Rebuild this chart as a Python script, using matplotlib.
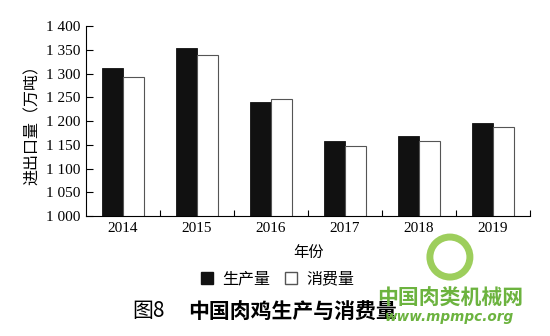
import matplotlib
matplotlib.use("Agg")
import matplotlib.pyplot as plt
from matplotlib.patches import Patch, Ellipse
import numpy as np

plt.rcParams['font.family'] = ['Liberation Serif', 'Noto Sans CJK SC', 'DejaVu Sans']

# 年份
years = ['2014', '2015', '2016', '2017', '2018', '2019']
# 生产量 / 消费量 (万吨)
production = [1311, 1353, 1240, 1158, 1168, 1196]
consumption = [1293, 1339, 1247, 1147, 1157, 1188]
yticks = [1000, 1050, 1100, 1150, 1200, 1250, 1300, 1350, 1400]
ytick_labels = ['1 000', '1 050', '1 100', '1 150', '1 200', '1 250', '1 300', '1 350', '1 400']

fig = plt.figure(figsize=(5.5, 3.36), dpi=100)
ax = fig.add_axes([0.1564, 0.357, 0.8072, 0.5656])

x = np.arange(len(years))
w = 0.29
ax.bar(x - w / 2, production, w, color='#111111', edgecolor='#111111', linewidth=0.6)
ax.bar(x + w / 2, consumption, w, color='white', edgecolor='#555555', linewidth=0.8)

ax.set_xlim(-0.5, len(years) - 0.5)
ax.set_ylim(1000, 1400)
ax.set_yticks(yticks)
ax.set_yticklabels(ytick_labels, fontsize=11)
# x刻度在组之间
ax.set_xticks(np.arange(len(years)) + 0.5)
ax.set_xticklabels([])
ax.set_xticks(x, minor=True)
ax.set_xticklabels(years, minor=True, fontsize=11)
ax.tick_params(axis='x', which='major', direction='in', length=4, width=0.8)
ax.tick_params(axis='x', which='minor', length=0, pad=4)
ax.tick_params(axis='y', direction='in', length=5, width=0.8, pad=4)
ax.spines['top'].set_visible(False)
ax.spines['right'].set_visible(False)
ax.spines['left'].set_linewidth(0.8)
ax.spines['bottom'].set_linewidth(0.8)

ax.set_ylabel('进出口量（万吨）', fontsize=11.5, family=['Noto Sans CJK SC'], labelpad=4)
ax.set_xlabel('年份', fontsize=11, family=['Noto Sans CJK SC'], labelpad=7)

handles = [Patch(facecolor='#111111', edgecolor='#111111', label='生产量'),
           Patch(facecolor='white', edgecolor='#555555', label='消费量')]
fig.legend(handles=handles, loc='center', bbox_to_anchor=(0.505, 0.17), ncol=2,
           frameon=False, prop={'family': 'Noto Sans CJK SC', 'size': 11.5},
           handlelength=0.75, handleheight=0.75, handletextpad=0.6, columnspacing=0.9)

fig.text(0.24, 0.074, '图8', fontsize=15, family=['Noto Sans CJK SC'], va='center', ha='left')
fig.text(0.342, 0.074, '中国肉鸡生产与消费量', fontsize=15, weight='bold',
         family=['Noto Sans CJK SC'], va='center', ha='left')

# 水印 (简化的标志圆环)
fig.patches.append(Ellipse((0.818, 0.235), 40 / 550, 40 / 336, transform=fig.transFigure,
                           fill=False, edgecolor='#8cc63f', linewidth=5, alpha=0.85))
fig.text(0.818, 0.113, '中国肉类机械网', fontsize=15, weight='bold', color='#6cb33f',
         family=['Noto Sans CJK SC'], va='center', ha='center')
fig.text(0.818, 0.056, 'www.mpmpc.org', fontsize=9.8, weight='bold', style='italic',
         color='#6cb33f', family=['DejaVu Sans'], va='center', ha='center')

fig.savefig('out.png', dpi=100)
